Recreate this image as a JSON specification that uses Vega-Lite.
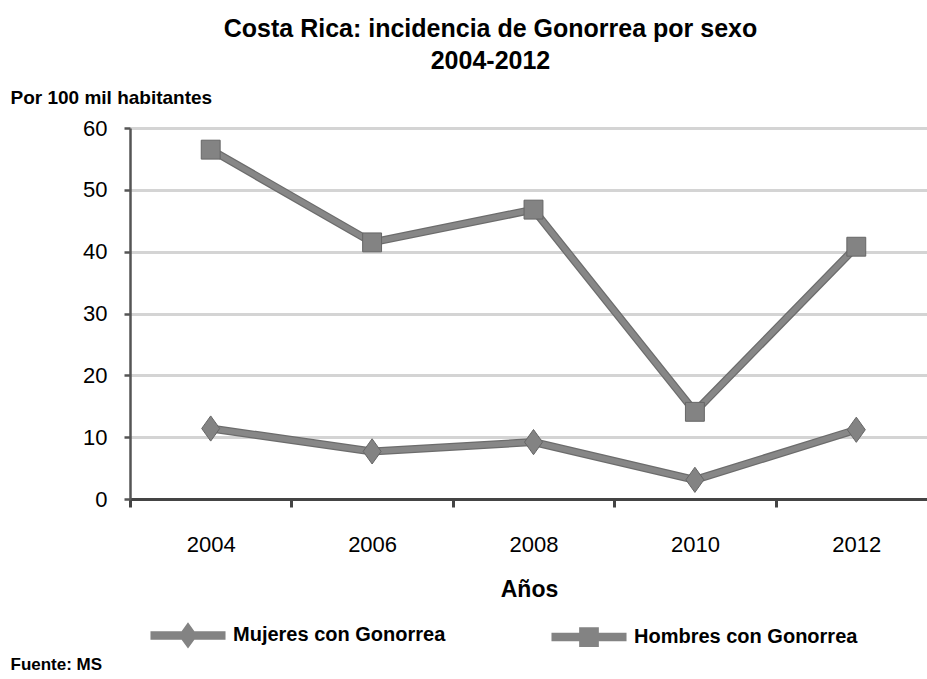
{
  "$schema": "https://vega.github.io/schema/vega-lite/v6.json",
  "autosize": {"type": "none"},
  "width": 797,
  "height": 371,
  "padding": {"left": 130, "top": 128, "right": 0, "bottom": 180},
  "background": "white",
  "title": {
    "text": ["Costa Rica: incidencia de Gonorrea por sexo", "2004-2012"],
    "anchor": "middle",
    "frame": "group",
    "dx": -38,
    "offset": 14,
    "font": "Liberation Sans, Arial, sans-serif",
    "fontSize": 25,
    "fontWeight": "bold",
    "lineHeight": 32,
    "color": "#000000"
  },
  "data": {
    "values": [
      {"anio": "2004", "serie": "Mujeres con Gonorrea", "valor": 11.4},
      {"anio": "2006", "serie": "Mujeres con Gonorrea", "valor": 7.7},
      {"anio": "2008", "serie": "Mujeres con Gonorrea", "valor": 9.2},
      {"anio": "2010", "serie": "Mujeres con Gonorrea", "valor": 3.1},
      {"anio": "2012", "serie": "Mujeres con Gonorrea", "valor": 11.2},
      {"anio": "2004", "serie": "Hombres con Gonorrea", "valor": 56.5},
      {"anio": "2006", "serie": "Hombres con Gonorrea", "valor": 41.5},
      {"anio": "2008", "serie": "Hombres con Gonorrea", "valor": 46.8},
      {"anio": "2010", "serie": "Hombres con Gonorrea", "valor": 14.1},
      {"anio": "2012", "serie": "Hombres con Gonorrea", "valor": 40.8}
    ]
  },
  "encoding": {
    "y": {
      "field": "valor",
      "type": "quantitative",
      "scale": {"domain": [0, 60], "nice": false},
      "axis": {
        "values": [0, 10, 20, 30, 40, 50, 60],
        "title": "Por 100 mil habitantes",
        "titleAngle": 0,
        "titleX": -120,
        "titleY": -31,
        "titleAlign": "left",
        "titleAnchor": null,
        "titleBaseline": "middle",
        "titleFont": "Liberation Sans, Arial, sans-serif",
        "titleFontSize": 19,
        "titleFontWeight": "bold",
        "titleColor": "#000000",
        "labelFont": "Liberation Sans, Arial, sans-serif",
        "labelFontSize": 22,
        "labelColor": "#000000",
        "labelPadding": 17,
        "domainColor": "#555555",
        "domainWidth": 2.5,
        "tickColor": "#555555",
        "tickWidth": 2.5,
        "tickSize": 6,
        "grid": true,
        "gridColor": "#d4d4d4",
        "gridWidth": 3
      }
    }
  },
  "layer": [
    {
      "mark": {"type": "line", "strokeWidth": 8, "color": "#6c6c6c"},
      "encoding": {
        "detail": {"field": "serie"},
        "x": {
          "field": "anio",
          "type": "ordinal",
          "scale": {"type": "band", "paddingInner": 0, "paddingOuter": 0, "range": [0, 807]},
          "axis": {
            "orient": "bottom",
            "title": "Años",
            "tickBand": "extent",
            "labelAngle": 0,
            "labelFont": "Liberation Sans, Arial, sans-serif",
            "labelFontSize": 22,
            "labelColor": "#000000",
            "labelPadding": 27,
            "domainColor": "#444444",
            "domainWidth": 3,
            "tickColor": "#444444",
            "tickWidth": 3,
            "tickSize": 8,
            "titleFont": "Liberation Sans, Arial, sans-serif",
            "titleFontSize": 23,
            "titleFontWeight": "bold",
            "titleColor": "#000000",
            "titlePadding": 23,
            "titleX": 399,
            "grid": false
          }
        }
      }
    },
    {
      "mark": {"type": "line", "strokeWidth": 5.5, "color": "#878787"},
      "encoding": {
        "detail": {"field": "serie"},
        "x": {
          "field": "anio",
          "type": "ordinal",
          "scale": {"type": "band", "paddingInner": 0, "paddingOuter": 0, "range": [0, 807]},
          "axis": null
        }
      }
    },
    {
      "mark": {"type": "point", "filled": true, "opacity": 1, "size": 324, "color": "#838383", "stroke": "#666666", "strokeWidth": 1},
      "encoding": {
        "x": {
          "field": "anio",
          "type": "ordinal",
          "scale": {"type": "band", "paddingInner": 0, "paddingOuter": 0, "range": [0, 807]},
          "axis": {
            "orient": "top",
            "title": "Fuente: MS",
            "labels": false,
            "ticks": false,
            "domain": false,
            "grid": false,
            "titleX": -120,
            "titleY": 536,
            "titleAnchor": null,
            "titleAlign": "left",
            "titleBaseline": "middle",
            "titleFont": "Liberation Sans, Arial, sans-serif",
            "titleFontSize": 17,
            "titleFontWeight": "bold",
            "titleColor": "#000000"
          }
        },
        "shape": {
          "field": "serie",
          "type": "nominal",
          "scale": {
            "domain": ["Mujeres con Gonorrea", "Hombres con Gonorrea"],
            "range": ["M0,-1.4L1,0L0,1.4L-1,0Z", "M-1.05,-1.05H1.05V1.05H-1.05Z"]
          },
          "legend": null
        }
      }
    },
    {
      "mark": {"type": "point", "filled": true, "opacity": 0, "size": 352, "color": "#838383"},
      "encoding": {
        "x": {
          "field": "anio",
          "type": "ordinal",
          "scale": {"type": "band", "paddingInner": 0, "paddingOuter": 0, "range": [0, 807]},
          "axis": null
        },
        "shape": {
          "field": "serie",
          "type": "nominal",
          "scale": {
            "domain": ["Mujeres con Gonorrea", "Hombres con Gonorrea"],
            "range": [
              "M-4,-0.45H-0.68L0,-1.4L0.68,-0.45H4V0.45H0.68L0,1.4L-0.68,0.45H-4Z",
              "M-4,-0.45H-1.05V-1.05H1.05V-0.45H4V0.45H1.05V1.05H-1.05V0.45H-4Z"
            ]
          },
          "legend": {
            "orient": "none",
            "direction": "horizontal",
            "legendX": 48,
            "legendY": 497,
            "padding": 0,
            "title": null,
            "symbolSize": 352,
            "symbolStrokeColor": "#666666",
            "symbolStrokeWidth": 1,
            "symbolFillColor": "#838383",
            "symbolOpacity": 1,
            "labelOffset": 35,
            "columnPadding": 103,
            "labelFont": "Liberation Sans, Arial, sans-serif",
            "labelFontSize": 20,
            "labelFontWeight": "bold",
            "labelColor": "#000000",
            "labelLimit": 400
          }
        }
      }
    }
  ],
  "resolve": {"axis": {"x": "independent"}, "scale": {"shape": "independent"}},
  "config": {
    "view": {"stroke": null},
    "font": "Liberation Sans, Arial, sans-serif"
  }
}
